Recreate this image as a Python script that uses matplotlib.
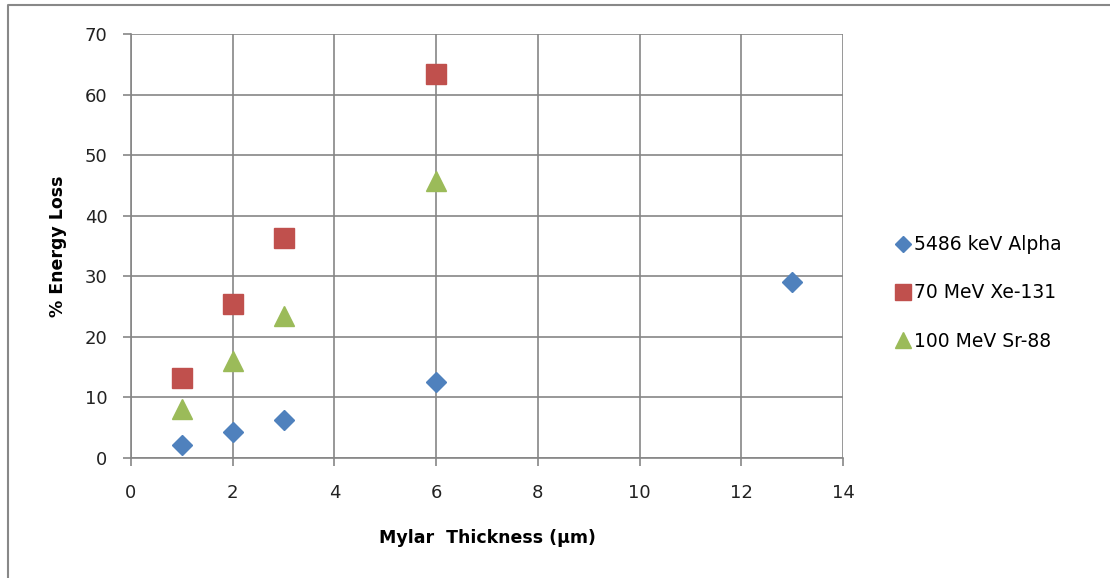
import matplotlib
matplotlib.use("Agg")
import matplotlib.pyplot as plt
from matplotlib.lines import Line2D

plt.rcParams['font.family'] = ['DejaVu Sans']

# data
alpha_x = [1, 2, 3, 6, 13]
alpha_y = [2.1, 4.3, 6.3, 12.6, 29.0]
xe_x = [1, 2, 3, 6]
xe_y = [13.2, 25.4, 36.3, 63.4]
sr_x = [1, 2, 3, 6]
sr_y = [8.1, 16.0, 23.4, 45.7]

labels = ['5486 keV Alpha', '70 MeV Xe-131', '100 MeV Sr-88']
colors = ['#4F81BD', '#C0504D', '#9BBB59']
grid_col = '#868686'

fig = plt.figure(figsize=(11.1, 5.78), dpi=100)
ax = fig.add_axes([131/1110, 1-458/578, (843-131)/1110, (458-34)/578])

h1, = ax.plot(alpha_x, alpha_y, 'D', ms=10.5, color=colors[0], mec=colors[0], ls='none', label=labels[0])
h2, = ax.plot(xe_x, xe_y, 's', ms=14, color=colors[1], mec=colors[1], ls='none', label=labels[1])
h3, = ax.plot(sr_x, sr_y, '^', ms=15, color=colors[2], mec=colors[2], ls='none', label=labels[2])

ax.set_xlim(0, 14)
ax.set_ylim(0, 70)
ax.set_xticks(range(0, 15, 2))
ax.set_yticks(range(0, 71, 10))
ax.grid(True, color=grid_col, lw=1.2)
ax.set_axisbelow(True)
for s in ['top', 'right']:
    ax.spines[s].set_visible(False)
for s in ['left', 'bottom']:
    ax.spines[s].set_color(grid_col)
    ax.spines[s].set_linewidth(1.2)
ax.tick_params(colors=grid_col, labelcolor='#222222', labelsize=13, length=6, width=1.2)
ax.tick_params(axis='x', pad=13)
ax.tick_params(axis='y', pad=11)

ax.set_xlabel('Mylar  Thickness (µm)', fontsize=12.5, fontweight='bold', labelpad=19)
ax.set_ylabel('% Energy Loss', fontsize=12.5, fontweight='bold', labelpad=13)

fig.legend(handles=[h1, h2, h3], loc='center left', bbox_to_anchor=(880/1110, 1-293/578),
           frameon=False, fontsize=13.5, handlelength=0.7, handletextpad=0.2,
           labelspacing=1.55, markerscale=0.8)

# outer chart frame (only left and top edges visible in the crop)
fig.lines.append(Line2D([8/1110, 8/1110, 1], [0, 1-5/578, 1-5/578], transform=fig.transFigure,
                        color='#888888', lw=1.5))

fig.savefig('out.png', dpi=100)
